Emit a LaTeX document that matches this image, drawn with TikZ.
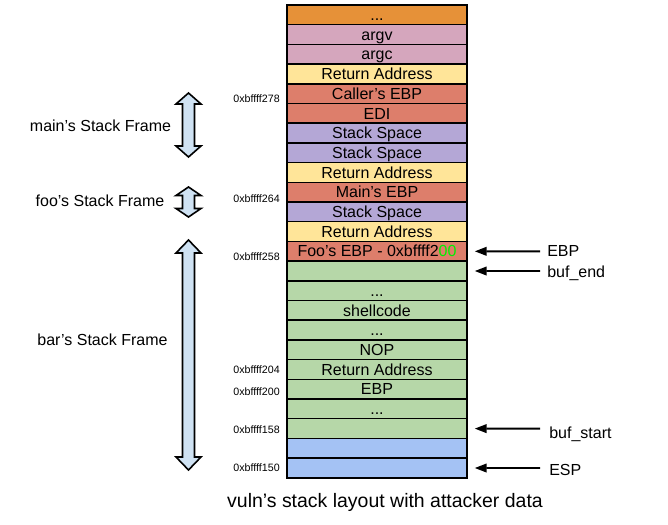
\documentclass[tikz,border=0pt]{standalone}
\usepackage{fontspec}
\setmainfont{Liberation Sans}
\usetikzlibrary{arrows.meta,calc}
\definecolor{cOr}{HTML}{E69138}
\definecolor{cPk}{HTML}{D5A6BD}
\definecolor{cYe}{HTML}{FFE599}
\definecolor{cRd}{HTML}{DD7E6B}
\definecolor{cPu}{HTML}{B4A7D6}
\definecolor{cGr}{HTML}{B6D7A8}
\definecolor{cBl}{HTML}{A4C2F4}
\definecolor{cAr}{HTML}{CFE2F3}
\definecolor{cTx}{HTML}{00F000}
\tikzset{
  cell/.style={draw=black, line width=1.1pt, minimum width=135pt, minimum height=14.78pt,
    inner sep=0pt, text height=8.6pt, text depth=0pt, font=\fontsize{12}{14}\selectfont},
  addr/.style={anchor=east, inner sep=0pt, font=\fontsize{8}{9}\selectfont},
  side/.style={inner sep=0pt, font=\fontsize{12}{14}\selectfont},
  ptrlbl/.style={anchor=west, inner sep=0pt, font=\fontsize{12}{14}\selectfont},
  ptr/.style={line width=1.4pt, -{Triangle[length=9pt,width=6.5pt]}, shorten >=5.25pt},
  frame/.style={draw=black, line width=1.2pt, fill=cAr, line join=miter}
}
\newcommand{\dblarr}[4]{% x, top, bottom, head length
  \draw[frame] (#1,#2) -- ++(12.5,#4) -- ++(-6.5,0) -- (#1+6,#3-#4) -- ++(6.5,0)
    -- (#1,#3) -- ++(-12.5,-#4) -- ++(6.5,0) -- (#1-6,#2+#4) -- ++(-6.5,0) -- cycle;}
\begin{document}
\begin{tikzpicture}[x=0.75pt,y=-0.75pt]
\useasboundingbox (0,0) rectangle (668,525);
\foreach \i/\t/\c in {0/{...}/cOr, 1/argv/cPk, 2/argc/cPk, 3/Return Address/cYe,
  4/Caller’s EBP/cRd, 5/EDI/cRd, 6/Stack Space/cPu, 7/Stack Space/cPu,
  8/Return Address/cYe, 9/Main’s EBP/cRd, 10/Stack Space/cPu, 11/Return Address/cYe,
  12/{Foo’s EBP - 0xbffff2\textcolor{cTx}{00}}/cRd, 13/{}/cGr, 14/{...}/cGr,
  15/shellcode/cGr, 16/{...}/cGr, 17/NOP/cGr, 18/Return Address/cGr, 19/EBP/cGr,
  20/{...}/cGr, 21/{}/cGr, 22/{}/cBl, 23/{}/cBl}
  \node[cell, fill=\c] (c\i) at (377, 5+19.7*\i+9.85) {\t};

% addresses
\node[addr] (a278) at (280,99) {0xbffff278};
\node[addr] (a264) at (280,199) {0xbffff264};
\node[addr] (a258) at (280,257) {0xbffff258};
\node[addr] (a204) at (280,370) {0xbffff204};
\node[addr] (a200) at (280,392) {0xbffff200};
\node[addr] (a158) at (280,430) {0xbffff158};
\node[addr] (a150) at (280,468) {0xbffff150};

% frame labels
\node[side] (lmain) at (100.5,126) {main’s Stack Frame};
\node[side] (lfoo) at (100,200.5) {foo’s Stack Frame};
\node[side] (lbar) at (102.5,340) {bar’s Stack Frame};

\dblarr{188.5}{93}{157}{11}
\dblarr{188.5}{187}{217}{8.5}
\dblarr{188.5}{240}{470}{13}

% pointers
\node[ptrlbl] (pEBP) at (547,251) {EBP};
\node[ptrlbl] (pEnd) at (547,273) {buf\_end};
\node[ptrlbl] (pStart) at (549,434) {buf\_start};
\node[ptrlbl] (pESP) at (549,470) {ESP};
\coordinate (tEBP) at (540,251.35);
\coordinate (tEnd) at (540,271.05);
\coordinate (tStart) at (540,428.65);
\coordinate (tESP) at (540,468.05);
\draw[ptr] (tEBP) -- (c12);
\draw[ptr] (tEnd) -- (c13);
\draw[ptr] (tStart) -- (c21);
\draw[ptr] (tESP) -- (c23);

\node[inner sep=0pt, font=\fontsize{14.6}{16}\selectfont] (cap) at (385,502) {vuln’s stack layout with attacker data};
\end{tikzpicture}
\end{document}
